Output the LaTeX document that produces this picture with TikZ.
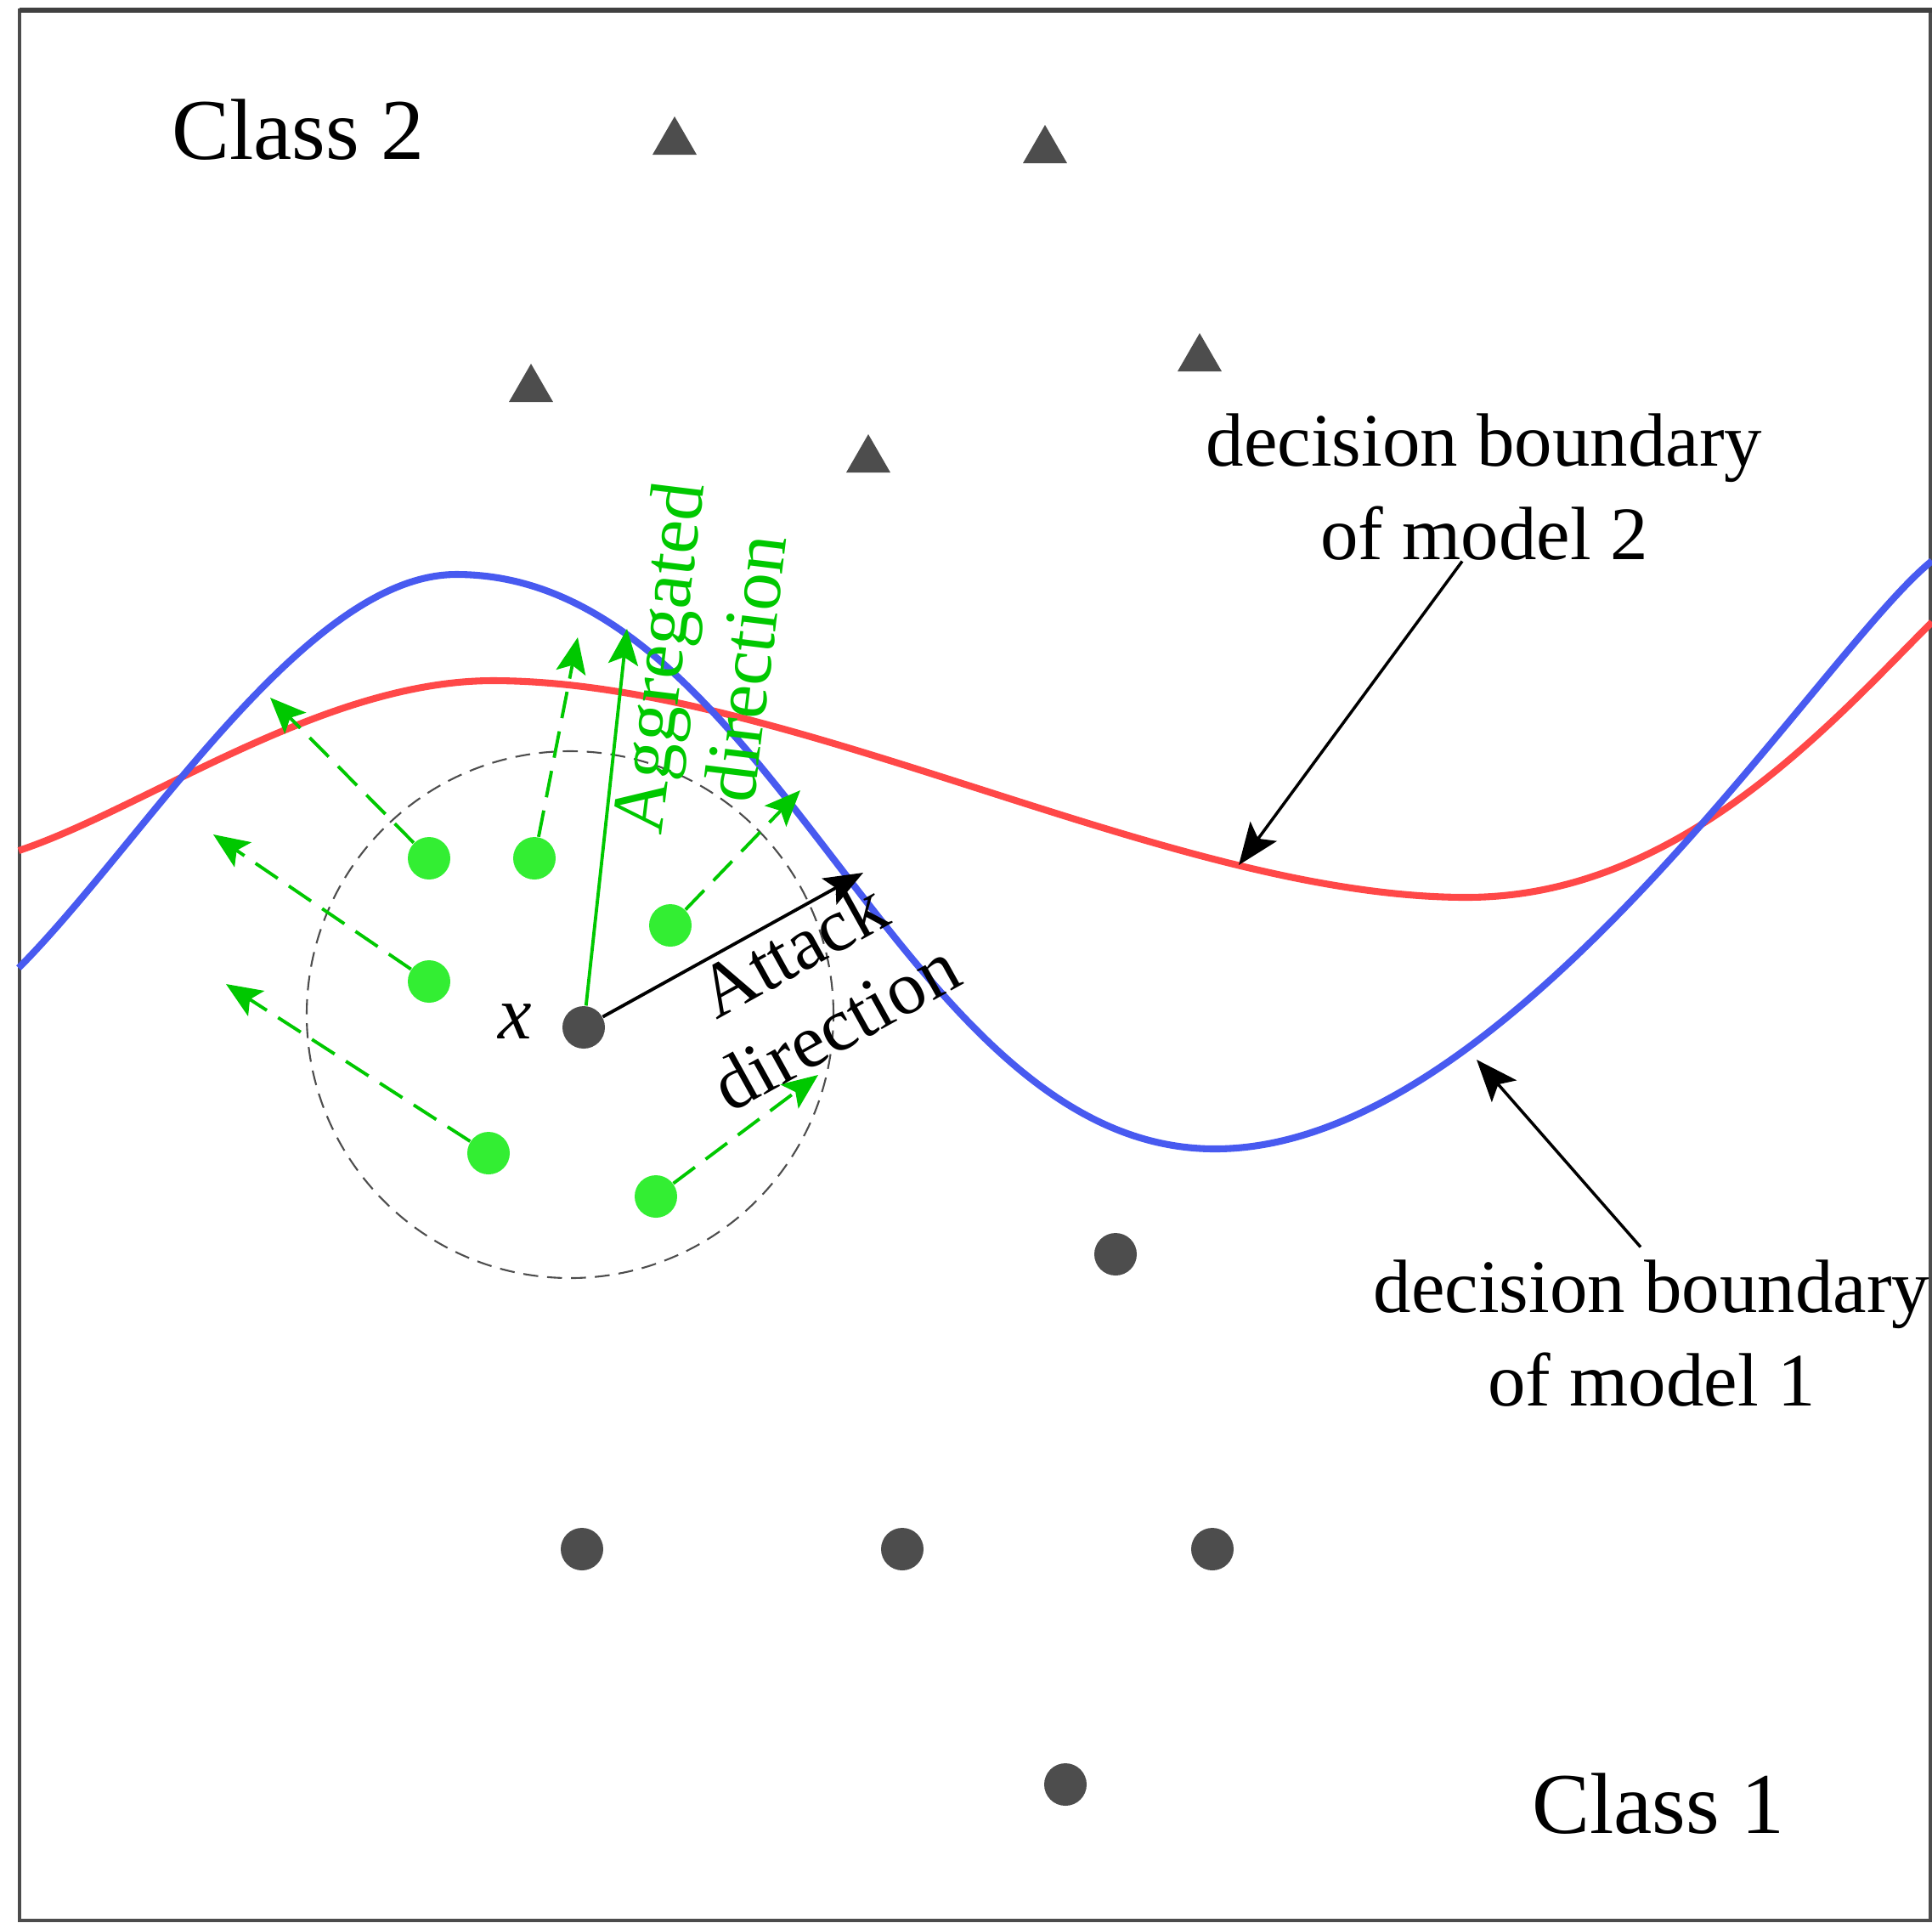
\documentclass[tikz,border=0pt]{standalone}
\usepackage{fontspec}
\setmainfont{Liberation Serif}
\usetikzlibrary{arrows.meta,shapes.geometric}
\definecolor{bdblue}{RGB}{72,90,240}
\definecolor{bdred}{RGB}{255,72,72}
\definecolor{ptgray}{RGB}{77,77,77}
\definecolor{nbgreen}{RGB}{51,238,51}
\definecolor{dirgreen}{RGB}{0,200,0}
\begin{document}
\begin{tikzpicture}[x=1cm, y=-1cm,
  frame/.style={draw=black!70, line width=1pt},
  blueline/.style={draw=bdblue, line width=2.3pt},
  redline/.style={draw=bdred, line width=2.3pt},
  ball/.style={draw=ptgray, line width=0.6pt, dash pattern=on 5pt off 3pt},
  classpt/.style={circle, fill=ptgray, minimum size=0.5cm, inner sep=0pt},
  classtri/.style={regular polygon, regular polygon sides=3, fill=ptgray, minimum size=0.6cm, inner sep=0pt},
  nbpt/.style={circle, fill=nbgreen, minimum size=0.5cm, inner sep=0pt},
  nbarrow/.style={dirgreen, line width=1.1pt, dash pattern=on 9pt off 4.5pt, -{Stealth[length=12pt,width=10pt,inset=2.5pt]}},
  aggarrow/.style={dirgreen, line width=1.1pt, -{Stealth[length=12pt,width=10pt,inset=2.5pt]}},
  atkarrow/.style={black, line width=1.1pt, -{Stealth[length=13pt,width=10pt,inset=2.5pt]}},
  pointer/.style={black, line width=1pt, -{Stealth[length=14pt,width=11pt,inset=3pt]}},
  classlbl/.style={inner sep=0pt, font=\fontsize{29}{35}\selectfont},
  bndlbl/.style={inner sep=0pt, align=center, font=\fontsize{25.3}{31.3}\selectfont},
  dirlbl/.style={inner sep=0pt, align=center, font=\fontsize{25.3}{29.5}\selectfont}]
\useasboundingbox (0,0) rectangle (22.74,22.62);
\draw[frame] (0.23,0.12) rectangle (22.72,22.6);
\draw[black!75, line width=1.6pt] (0.23,0.12) -- (22.74,0.12);

\draw[redline] (0.22,10.01) .. controls (1.72,9.51) and (3.80,8.01) .. (5.80,8.01)
  .. controls (9.29,8.01) and (13.77,10.56) .. (17.26,10.56)
  .. controls (19.76,10.56) and (21.54,8.52) .. (22.74,7.32);
\draw[blueline] (0.22,11.39) .. controls (1.70,9.90) and (3.60,6.76) .. (5.37,6.76)
  .. controls (9.10,6.76) and (10.57,13.52) .. (14.30,13.52)
  .. controls (17.80,13.52) and (21.44,7.64) .. (22.74,6.60);

\draw[ball] (6.71,11.94) circle (3.1cm);

\node[classtri] (tri1) at (7.94,1.67) {};
\node[classtri] (tri2) at (12.30,1.77) {};
\node[classtri] (tri3) at (6.25,4.58) {};
\node[classtri] (tri4) at (14.12,4.22) {};
\node[classtri] (tri5) at (10.22,5.41) {};

\node[classpt] (xpt) at (6.87,12.09) {};
\node[classpt] (pt1) at (13.13,14.76) {};
\node[classpt] (pt2) at (6.85,18.23) {};
\node[classpt] (pt3) at (10.62,18.23) {};
\node[classpt] (pt4) at (14.27,18.23) {};
\node[classpt] (pt5) at (12.54,21.00) {};

\node[nbpt] (nb1) at (5.05,10.10) {};
\node[nbpt] (nb2) at (6.29,10.10) {};
\node[nbpt] (nb3) at (7.89,10.89) {};
\node[nbpt] (nb4) at (5.05,11.55) {};
\node[nbpt] (nb5) at (5.75,13.57) {};
\node[nbpt] (nb6) at (7.72,14.08) {};
\coordinate (nb1to) at (3.18,8.21);
\coordinate (nb2to) at (6.80,7.50);
\coordinate (nb3to) at (9.42,9.30);
\coordinate (nb4to) at (2.51,9.82);
\coordinate (nb5to) at (2.66,11.58);
\coordinate (nb6to) at (9.63,12.65);
\draw[nbarrow] (nb1) -- (nb1to);
\draw[nbarrow] (nb2) -- (nb2to);
\draw[nbarrow] (nb3) -- (nb3to);
\draw[nbarrow] (nb4) -- (nb4to);
\draw[nbarrow] (nb5) -- (nb5to);
\draw[nbarrow] (nb6) -- (nb6to);

\coordinate (aggto) at (7.38,7.40);
\coordinate (atkto) at (10.16,10.27);
\draw[aggarrow] (xpt) -- (aggto);
\draw[atkarrow] (xpt) -- (atkto);

\node[classlbl, anchor=base] (cls2) at (3.51,1.87) {Class 2};
\node[classlbl, anchor=base] (cls1) at (19.52,21.57) {Class 1};
\node[bndlbl] (bnd2) at (17.47,5.735) {decision boundary\\of model 2};
\node[bndlbl] (bnd1) at (19.44,15.695) {decision boundary\\of model 1};
\node[dirlbl, text=dirgreen, rotate=83] (agglbl) at (8.25,7.80) {Aggregated\\direction};
\node[dirlbl, rotate=29] (atklbl) at (9.58,11.62) {Attack\\direction};
\node[inner sep=0pt, font=\fontsize{25.3}{30}\selectfont\itshape] (xlbl) at (6.06,12.02) {x};

\coordinate (bnd2to) at (14.58,10.18);
\coordinate (bnd1to) at (17.38,12.47);
\draw[pointer] ([xshift=-0.26cm]bnd2.south) -- (bnd2to);
\draw[pointer] ([xshift=-0.13cm,yshift=0.15cm]bnd1.north) -- (bnd1to);
\end{tikzpicture}
\end{document}
